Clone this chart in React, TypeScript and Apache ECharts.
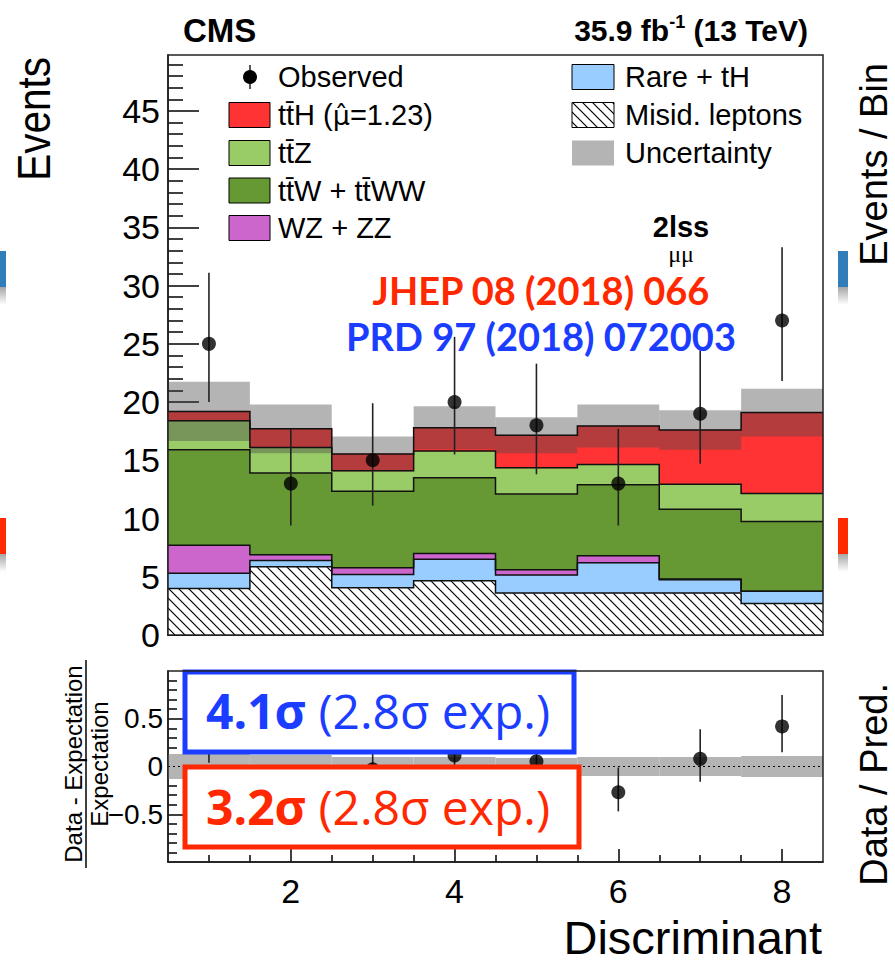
import React, { useEffect, useRef } from "react";
import * as echarts from "echarts";

// Discriminant bins (bin centres)
const bins = [1, 2, 3, 4, 5, 6, 7, 8];

// Expected yields per process and bin (events)
const misidLeptons = [4.0, 5.85, 4.05, 4.65, 3.6, 3.6, 3.6, 2.7];
const rareTH = [1.3, 0.55, 1.15, 1.85, 1.55, 2.6, 1.15, 1.05];
const wzZZ = [2.4, 0.5, 0.57, 0.5, 0.45, 0.6, 0.05, 0.0];
const ttWttWW = [8.2, 7.0, 6.58, 6.5, 6.5, 6.1, 6.0, 6.0];
const ttZ = [2.5, 2.2, 1.75, 2.3, 2.25, 1.75, 2.15, 2.4];
const ttH = [0.8, 1.6, 1.45, 2.0, 2.8, 3.3, 4.65, 6.95];
const totalUnc = [2.55, 2.1, 1.5, 1.85, 1.55, 1.85, 1.7, 2.05];

// Observed data with asymmetric Poisson intervals
const observed = [25, 13, 15, 20, 18, 13, 19, 27];
const obsLow = [20.0, 9.4, 11.1, 15.5, 13.8, 9.4, 14.7, 21.8];
const obsHigh = [31.1, 17.7, 19.9, 25.6, 23.3, 17.7, 24.4, 33.3];

// Ratio panel: (data - expectation) / expectation
const ratioVal = [0.29, -0.27, -0.03, 0.115, 0.055, -0.27, 0.08, 0.42];
const ratioLow = [0.04, -0.47, -0.29, -0.13, -0.2, -0.47, -0.16, 0.15];
const ratioHigh = [0.62, 0.0, 0.28, 0.44, 0.36, -0.01, 0.39, 0.75];
const ratioBand = [0.13, 0.12, 0.1, 0.1, 0.09, 0.1, 0.1, 0.11];

// Axis ticks and labels
const majorX = [2, 4, 6, 8];
const minorX = [1, 1.5, 2.5, 3, 3.5, 4.5, 5, 5.5, 6.5, 7, 7.5];
const majorY = [0, 5, 10, 15, 20, 25, 30, 35, 40, 45];
const minorY = [
  1, 2, 3, 4, 6, 7, 8, 9, 11, 12, 13, 14, 16, 17, 18, 19, 21, 22, 23, 24, 26, 27,
  28, 29, 31, 32, 33, 34, 36, 37, 38, 39, 41, 42, 43, 44, 46, 47, 48, 49,
];
const majorR = [-0.5, 0, 0.5];
const minorR = [-0.9, -0.8, -0.7, -0.6, -0.4, -0.3, -0.2, -0.1, 0.1, 0.2, 0.3, 0.4, 0.6, 0.7, 0.8, 0.9];

const FONT = "'Liberation Sans', Arial, Helvetica, sans-serif";
const HUM = "Lato, 'Open Sans', sans-serif";
const BOXFONT = "'Open Sans', Lato, sans-serif";
const RED = "#ff2800";
const BLUE = "#1a3dff";

const C_TTH = "#ff3333";
const C_TTZ = "#99cc66";
const C_TTW = "#669933";
const C_WZ = "#cc66cc";
const C_RARE = "#99ccff";
const C_UNC = "#b4b4b4";
const UNC_OVERLAY = "rgba(73,73,73,0.41)";

const MAIN = { left: 168, top: 55, width: 655, height: 580 };
const RATIO = { left: 168, top: 671, width: 655, height: 191 };

function makeHatch() {
  const s = 10;
  const c = document.createElement("canvas");
  c.width = s;
  c.height = s;
  const g = c.getContext("2d")!;
  g.fillStyle = "#fff";
  g.fillRect(0, 0, s, s);
  g.strokeStyle = "#000";
  g.lineWidth = 1.2;
  g.beginPath();
  g.moveTo(-2, -2);
  g.lineTo(s + 2, s + 2);
  g.moveTo(-2, s - 2);
  g.lineTo(2, s + 2);
  g.moveTo(s - 2, -2);
  g.lineTo(s + 2, 2);
  g.stroke();
  return { image: c, repeat: "repeat", imageWidth: s, imageHeight: s } as any;
}

function buildOption() {
  const hatch = makeHatch();
  const layerValues = [misidLeptons, rareTH, wzZZ, ttWttWW, ttZ, ttH];
  const layerFills: any[] = [hatch, C_RARE, C_WZ, C_TTW, C_TTZ, C_TTH];

  // stacked tops of each process
  const tops: number[][] = [];
  let running = bins.map(() => 0);
  layerValues.forEach((vals) => {
    const next = running.map((r, i) => r + vals[i]);
    tops.push(next);
    running = next;
  });
  const bottomOf = (k: number) => (k === 0 ? bins.map(() => 0) : tops[k - 1]);
  const expected = tops[tops.length - 1];

  const tickLine = { color: "#000", width: 1.5 };
  const xBase = (grid: number) => ({
    gridIndex: grid,
    type: "value",
    min: 0.5,
    max: 8.5,
    position: "bottom",
    splitLine: { show: false },
  });
  const yBase = (grid: number, min: number, max: number) => ({
    gridIndex: grid,
    type: "value",
    min,
    max,
    position: "left",
    splitLine: { show: false },
  });

  const stepTop = (api: any, vals: number[]) => {
    const pts: number[][] = [];
    bins.forEach((b, i) => {
      pts.push(api.coord([b - 0.5, vals[i]]));
      pts.push(api.coord([b + 0.5, vals[i]]));
    });
    return pts;
  };

  const graphics: any[] = [];
  const txt = (x: number, y: number, text: string, extra: any = {}, el: any = {}) =>
    graphics.push({
      type: "text",
      x,
      y,
      z: 110,
      silent: true,
      ...el,
      style: {
        text,
        fontFamily: FONT,
        fontSize: 29,
        fill: "#000",
        align: "left",
        verticalAlign: "middle",
        ...extra,
      },
    });
  const UP = { rotation: Math.PI / 2 };

  // frames
  [MAIN, RATIO].forEach((g) =>
    graphics.push({
      type: "rect",
      z: 120,
      silent: true,
      shape: { x: g.left, y: g.top, width: g.width, height: g.height },
      style: { fill: "none", stroke: "#222", lineWidth: 1.5 },
    })
  );

  // header
  txt(183, 30, "CMS", { fontSize: 33, fontWeight: "bold" });
  graphics.push({
    type: "text",
    x: 808,
    y: 30,
    z: 110,
    silent: true,
    style: {
      text: "{a|35.9 fb}{s|-1}{a| (13 TeV)}",
      align: "right",
      verticalAlign: "middle",
      rich: {
        a: { fontFamily: FONT, fontSize: 30, fontWeight: "bold", fill: "#000", lineHeight: 34 },
        s: { fontFamily: FONT, fontSize: 18, fontWeight: "bold", fill: "#000", verticalAlign: "top", lineHeight: 18 },
      },
    },
  });

  // legend, left column
  const rows = [77, 115, 153, 190.5, 228];
  graphics.push({
    type: "line",
    z: 110,
    silent: true,
    shape: { x1: 250, y1: rows[0] - 12, x2: 250, y2: rows[0] + 12 },
    style: { stroke: "#222", lineWidth: 1.5 },
  });
  graphics.push({
    type: "circle",
    z: 111,
    silent: true,
    shape: { cx: 250, cy: rows[0], r: 7 },
    style: { fill: "#000" },
  });
  txt(278, rows[0], "Observed");
  const legRich = {
    a: { fontFamily: FONT, fontSize: 29, fill: "#000" },
    m: { fontFamily: "'DejaVu Sans', sans-serif", fontSize: 27, fill: "#000" },
  };
  const leftEntries: [string, any][] = [
    ["{a|tt\u0304H (}{m|\u03bc\u0302}{a|=1.23)}", C_TTH],
    ["{a|tt\u0304Z}", C_TTZ],
    ["{a|tt\u0304W + tt\u0304WW}", C_TTW],
    ["{a|WZ + ZZ}", C_WZ],
  ];
  leftEntries.forEach(([label, fill], i) => {
    const y = rows[i + 1];
    graphics.push({
      type: "rect",
      z: 110,
      silent: true,
      shape: { x: 229, y: y - 12.5, width: 41, height: 25 },
      style: { fill, stroke: "#000", lineWidth: 1 },
    });
    txt(278, y, label, { rich: legRich });
  });
  // legend, right column
  const rightEntries: [string, any, boolean][] = [
    ["Rare + tH", C_RARE, true],
    ["Misid. leptons", hatch, true],
    ["Uncertainty", C_UNC, false],
  ];
  rightEntries.forEach(([label, fill, border], i) => {
    const y = rows[i];
    graphics.push({
      type: "rect",
      z: 110,
      silent: true,
      shape: { x: 572, y: y - 12.5, width: 42, height: 25 },
      style: border ? { fill, stroke: "#000", lineWidth: 1 } : { fill },
    });
    txt(625, y, label);
  });

  // channel label
  txt(681, 227, "2lss", { fontSize: 29, fontWeight: "bold", align: "center" });
  txt(681, 254, "\u03bc\u03bc", { fontSize: 24, fontFamily: "'Liberation Serif', serif", align: "center" });

  // publication references
  txt(541, 290, "JHEP 08 (2018) 066", { fontFamily: HUM, fontSize: 38, fontWeight: "bold", fill: RED, align: "center" });
  txt(541, 336, "PRD 97 (2018) 072003", { fontFamily: HUM, fontSize: 38, fontWeight: "bold", fill: BLUE, align: "center" });

  // significance boxes in the ratio panel
  const sigBox = (y: number, w: number, color: string, obs: string, cy: number) => {
    graphics.push({
      type: "rect",
      z: 105,
      silent: true,
      shape: { x: 185, y, width: w, height: 80 },
      style: { fill: "#fff", stroke: color, lineWidth: 5 },
    });
    graphics.push({
      type: "text",
      x: 206,
      y: cy,
      z: 110,
      silent: true,
      style: {
        text: `{b|${obs}}{n| (2.8\u03c3 exp.)}`,
        align: "left",
        verticalAlign: "middle",
        rich: {
          b: { fontFamily: BOXFONT, fontSize: 48, fontWeight: "bold", fill: color },
          n: { fontFamily: BOXFONT, fontSize: 48, fill: color },
        },
      },
    });
  };
  sigBox(672, 389, BLUE, "4.1\u03c3", 710);
  sigBox(767, 394, RED, "3.2\u03c3", 806);

  // axis titles
  txt(34, 57, "Events", { fontSize: 46, align: "right" }, { ...UP, scaleX: 0.88 });
  txt(822, 937, "Discriminant", { fontSize: 47, align: "right" });
  txt(73, 764, "Data - Expectation", { fontSize: 24, align: "center" }, UP);
  graphics.push({
    type: "line",
    z: 110,
    silent: true,
    shape: { x1: 86, y1: 660, x2: 86, y2: 868 },
    style: { stroke: "#000", lineWidth: 1.5 },
  });
  txt(99, 764, "Expectation", { fontSize: 24, align: "center" }, UP);
  txt(874, 63, "Events / Bin", { fontSize: 38, align: "right" }, UP);
  txt(874, 683, "Data / Pred.", { fontSize: 38, align: "right" }, UP);

  // side markers
  const fade = {
    type: "linear",
    x: 0,
    y: 0,
    x2: 0,
    y2: 1,
    colorStops: [
      { offset: 0, color: "rgba(0,0,0,0.35)" },
      { offset: 1, color: "rgba(0,0,0,0)" },
    ],
  };
  [
    [0, 6],
    [838, 10],
  ].forEach(([x, w]) => {
    [
      [251, "#2f7db9"],
      [518, "#ff2a00"],
    ].forEach(([y, c]: any) => {
      graphics.push({ type: "rect", z: 1, silent: true, shape: { x, y, width: w, height: 36 }, style: { fill: c } });
      graphics.push({ type: "rect", z: 1, silent: true, shape: { x, y: y + 36, width: w, height: 18 }, style: { fill: fade } });
    });
  });

  return {
    animation: false,
    backgroundColor: "#fff",
    grid: [
      { ...MAIN, containLabel: false },
      { ...RATIO, containLabel: false },
    ],
    xAxis: [
      {
        ...xBase(0),
        axisLine: { show: true, onZero: false, lineStyle: tickLine },
        axisTick: { show: true, inside: true, length: 14, customValues: majorX, lineStyle: tickLine },
        axisLabel: { show: false },
      },
      {
        ...xBase(0),
        axisLine: { show: false, onZero: false },
        axisTick: { show: true, inside: true, length: 7, customValues: minorX, lineStyle: tickLine },
        axisLabel: { show: false },
      },
      {
        ...xBase(1),
        axisLine: { show: true, onZero: false, lineStyle: tickLine },
        axisTick: { show: true, inside: true, length: 13, customValues: majorX, lineStyle: tickLine },
        axisLabel: { show: true, customValues: majorX, fontSize: 34, fontFamily: FONT, color: "#000", margin: 12 },
      },
      {
        ...xBase(1),
        axisLine: { show: false, onZero: false },
        axisTick: { show: true, inside: true, length: 7, customValues: minorX, lineStyle: tickLine },
        axisLabel: { show: false },
      },
    ],
    yAxis: [
      {
        ...yBase(0, 0, 49.8),
        axisLine: { show: true, onZero: false, lineStyle: tickLine },
        axisTick: { show: true, inside: true, length: 31, customValues: majorY, lineStyle: tickLine },
        axisLabel: { show: true, customValues: majorY, fontSize: 34, fontFamily: FONT, color: "#000", margin: 8 },
      },
      {
        ...yBase(0, 0, 49.8),
        axisLine: { show: false, onZero: false },
        axisTick: { show: true, inside: true, length: 15, customValues: minorY, lineStyle: tickLine },
        axisLabel: { show: false },
      },
      {
        ...yBase(1, -1, 1),
        axisLine: { show: true, onZero: false, lineStyle: tickLine },
        axisTick: { show: true, inside: true, length: 15, customValues: majorR, lineStyle: tickLine },
        axisLabel: {
          show: true,
          customValues: majorR,
          fontSize: 28,
          fontFamily: FONT,
          color: "#000",
          margin: 5,
          formatter: (v: number) => (v < 0 ? "\u2212" + String(-v) : String(v)),
        },
      },
      {
        ...yBase(1, -1, 1),
        axisLine: { show: false, onZero: false },
        axisTick: { show: true, inside: true, length: 9, customValues: minorR, lineStyle: tickLine },
        axisLabel: { show: false },
      },
    ],
    series: [
      // stacked process fills
      {
        type: "custom",
        name: "stack",
        xAxisIndex: 0,
        yAxisIndex: 0,
        z: 2,
        silent: true,
        data: layerValues.map((_, k) => [k]),
        renderItem: (params: any, api: any) => {
          const k = params.dataIndex;
          const top = stepTop(api, tops[k]);
          const bottom = stepTop(api, bottomOf(k)).reverse();
          return {
            type: "polygon",
            shape: { points: top.concat(bottom) },
            style: { fill: layerFills[k], stroke: layerFills[k] === hatch ? null : layerFills[k], lineWidth: 0.5 },
          };
        },
      },
      // uncertainty band
      {
        type: "custom",
        name: "Uncertainty",
        xAxisIndex: 0,
        yAxisIndex: 0,
        z: 3,
        silent: true,
        data: bins.map((b, i) => [b, expected[i] - totalUnc[i], expected[i] + totalUnc[i]]),
        renderItem: (_p: any, api: any) => {
          const a = api.coord([api.value(0) - 0.5, api.value(2)]);
          const b = api.coord([api.value(0) + 0.5, api.value(1)]);
          return {
            type: "rect",
            shape: { x: a[0], y: a[1], width: b[0] - a[0], height: b[1] - a[1] },
            style: { fill: UNC_OVERLAY },
          };
        },
      },
      // process outlines
      {
        type: "custom",
        name: "outlines",
        xAxisIndex: 0,
        yAxisIndex: 0,
        z: 4,
        silent: true,
        data: layerValues.map((_, k) => [k]),
        renderItem: (params: any, api: any) => ({
          type: "polyline",
          shape: { points: stepTop(api, tops[params.dataIndex]) },
          style: { fill: null, stroke: "#111", lineWidth: 1.5 },
        }),
      },
      // observed error bars
      {
        type: "custom",
        name: "obsErr",
        xAxisIndex: 0,
        yAxisIndex: 0,
        z: 5,
        silent: true,
        data: bins.map((b, i) => [b, obsLow[i], obsHigh[i]]),
        renderItem: (_p: any, api: any) => {
          const a = api.coord([api.value(0), api.value(1)]);
          const b = api.coord([api.value(0), api.value(2)]);
          return {
            type: "line",
            shape: { x1: a[0], y1: a[1], x2: b[0], y2: b[1] },
            style: { stroke: "#222", lineWidth: 1.6 },
          };
        },
      },
      {
        type: "scatter",
        name: "Observed",
        xAxisIndex: 0,
        yAxisIndex: 0,
        z: 6,
        silent: true,
        symbol: "circle",
        symbolSize: 14,
        itemStyle: { color: "#000" },
        data: bins.map((b, i) => [b, observed[i]]),
      },
      // ratio band
      {
        type: "custom",
        name: "ratioBand",
        xAxisIndex: 2,
        yAxisIndex: 2,
        z: 2,
        silent: true,
        data: bins.map((b, i) => [b, -ratioBand[i], ratioBand[i]]),
        renderItem: (_p: any, api: any) => {
          const a = api.coord([api.value(0) - 0.5, api.value(2)]);
          const b = api.coord([api.value(0) + 0.5, api.value(1)]);
          return {
            type: "rect",
            shape: { x: a[0], y: a[1], width: b[0] - a[0], height: b[1] - a[1] },
            style: { fill: C_UNC },
          };
        },
      },
      // zero reference line
      {
        type: "custom",
        name: "zero",
        xAxisIndex: 2,
        yAxisIndex: 2,
        z: 3,
        silent: true,
        data: [[0]],
        renderItem: (_p: any, api: any) => {
          const a = api.coord([0.5, 0]);
          const b = api.coord([8.5, 0]);
          return {
            type: "line",
            shape: { x1: a[0], y1: a[1], x2: b[0], y2: b[1] },
            style: { stroke: "#000", lineWidth: 1, lineDash: [2, 3] },
          };
        },
      },
      {
        type: "custom",
        name: "ratioErr",
        xAxisIndex: 2,
        yAxisIndex: 2,
        z: 5,
        silent: true,
        data: bins.map((b, i) => [b, ratioLow[i], ratioHigh[i]]),
        renderItem: (_p: any, api: any) => {
          const a = api.coord([api.value(0), api.value(1)]);
          const b = api.coord([api.value(0), api.value(2)]);
          return {
            type: "line",
            shape: { x1: a[0], y1: a[1], x2: b[0], y2: b[1] },
            style: { stroke: "#222", lineWidth: 1.6 },
          };
        },
      },
      {
        type: "scatter",
        name: "ratio",
        xAxisIndex: 2,
        yAxisIndex: 2,
        z: 6,
        silent: true,
        symbol: "circle",
        symbolSize: 14,
        itemStyle: { color: "#000" },
        data: bins.map((b, i) => [b, ratioVal[i]]),
      },
    ],
    graphic: graphics,
  };
}

export default function App() {
  const ref = useRef<HTMLDivElement>(null);
  useEffect(() => {
    const el = ref.current;
    if (!el) return;
    const chart = echarts.init(el, null, { renderer: "svg" });
    chart.setOption(buildOption() as any);
    return () => chart.dispose();
  }, []);
  return (
    <div
      ref={ref}
      style={{ position: "absolute", left: 0, top: 0, width: 895, height: 964, background: "#fff" }}
    />
  );
}
